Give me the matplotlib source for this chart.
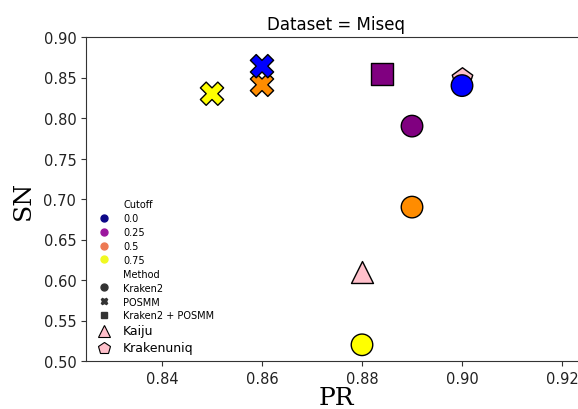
import matplotlib
matplotlib.use("Agg")
import matplotlib.pyplot as plt
from matplotlib.lines import Line2D

# Kraken2 (circles), one per cutoff
kraken2_pr = [0.90, 0.89, 0.89, 0.88]
kraken2_sn = [0.84, 0.79, 0.69, 0.52]
kraken2_colors = ["blue", "purple", "darkorange", "yellow"]

# POSMM (crosses)
posmm_pr = [0.86, 0.86, 0.85]
posmm_sn = [0.841, 0.864, 0.83]
posmm_colors = ["darkorange", "blue", "yellow"]

# Kraken2 + POSMM (square)
combo_pr = [0.884]
combo_sn = [0.854]
combo_colors = ["purple"]

# other tools
kaiju_pr, kaiju_sn = [0.88], [0.61]
krakenuniq_pr, krakenuniq_sn = [0.90], [0.85]

cutoff_labels = ["0.0", "0.25", "0.5", "0.75"]
cutoff_legend_colors = ["#0d0887", "#9c179e", "#ed7953", "#f0f921"]
method_labels = ["Kraken2", "POSMM", "Kraken2 + POSMM"]
method_markers = ["o", "X", "s"]

fig = plt.figure(figsize=(5.78, 4.10), dpi=100)
ax = fig.add_axes([86 / 578, 48 / 410, 500 / 578, 324 / 410])

ax.scatter(krakenuniq_pr, krakenuniq_sn, marker="p", s=240, c="pink",
           edgecolors="black", linewidths=1.0, zorder=2)
ax.scatter(kraken2_pr, kraken2_sn, marker="o", s=240, c=kraken2_colors,
           edgecolors="black", linewidths=1.0, zorder=3)
ax.scatter(posmm_pr, posmm_sn, marker="X", s=280, c=posmm_colors,
           edgecolors="black", linewidths=1.0, zorder=3)
ax.scatter(combo_pr, combo_sn, marker="s", s=230, c=combo_colors,
           edgecolors="black", linewidths=1.0, zorder=3)
ax.scatter(kaiju_pr, kaiju_sn, marker="^", s=250, c="pink",
           edgecolors="black", linewidths=1.0, zorder=3)

ax.set_xlim(0.8248, 0.9248)
ax.set_ylim(0.5, 0.9)
ax.set_xticks([0.84, 0.86, 0.88, 0.90, 0.92])
ax.set_yticks([0.50, 0.55, 0.60, 0.65, 0.70, 0.75, 0.80, 0.85, 0.90])
ax.xaxis.set_major_formatter(matplotlib.ticker.FormatStrFormatter("%.2f"))
ax.yaxis.set_major_formatter(matplotlib.ticker.FormatStrFormatter("%.2f"))
ax.tick_params(labelsize=10.5, color="#333333", labelcolor="#222222")
for side in ["left", "bottom", "top"]:
    ax.spines[side].set_color("#333333")
ax.spines["right"].set_visible(False)

ax.set_title("Dataset = Miseq", fontsize=12)
ax.set_xlabel("PR", family="DejaVu Serif", fontsize=18, labelpad=0)
ax.set_ylabel("SN", family="DejaVu Serif", fontsize=18, labelpad=6)

# legend: seaborn-like hue/style groups plus the extra tools
handles, labels = [], []
handles.append(Line2D([], [], linestyle="none"))
labels.append("Cutoff")
for col, lab in zip(cutoff_legend_colors, cutoff_labels):
    handles.append(Line2D([], [], marker="o", linestyle="none", markersize=5,
                          markerfacecolor=col, markeredgecolor=col))
    labels.append(lab)
handles.append(Line2D([], [], linestyle="none"))
labels.append("Method")
for mk, lab in zip(method_markers, method_labels):
    handles.append(Line2D([], [], marker=mk, linestyle="none", markersize=5,
                          markerfacecolor="#333333", markeredgecolor="#333333"))
    labels.append(lab)
kaiju_h = Line2D([], [], marker="^", linestyle="none", markersize=9,
                 markerfacecolor="pink", markeredgecolor="black", markeredgewidth=0.8)
kuniq_h = Line2D([], [], marker="p", linestyle="none", markersize=9,
                 markerfacecolor="pink", markeredgecolor="black", markeredgewidth=0.8)
handles += [kaiju_h, kuniq_h]
labels += ["Kaiju", "Krakenuniq"]

leg = ax.legend(handles, labels, loc="lower left", frameon=False, fontsize=7,
                handlelength=1.2, handletextpad=1.4, labelspacing=0.4,
                borderaxespad=0.3, bbox_to_anchor=(0.01, 0.0))
for t in leg.get_texts()[-2:]:
    t.set_fontsize(9)

fig.savefig("out.png", dpi=100)
